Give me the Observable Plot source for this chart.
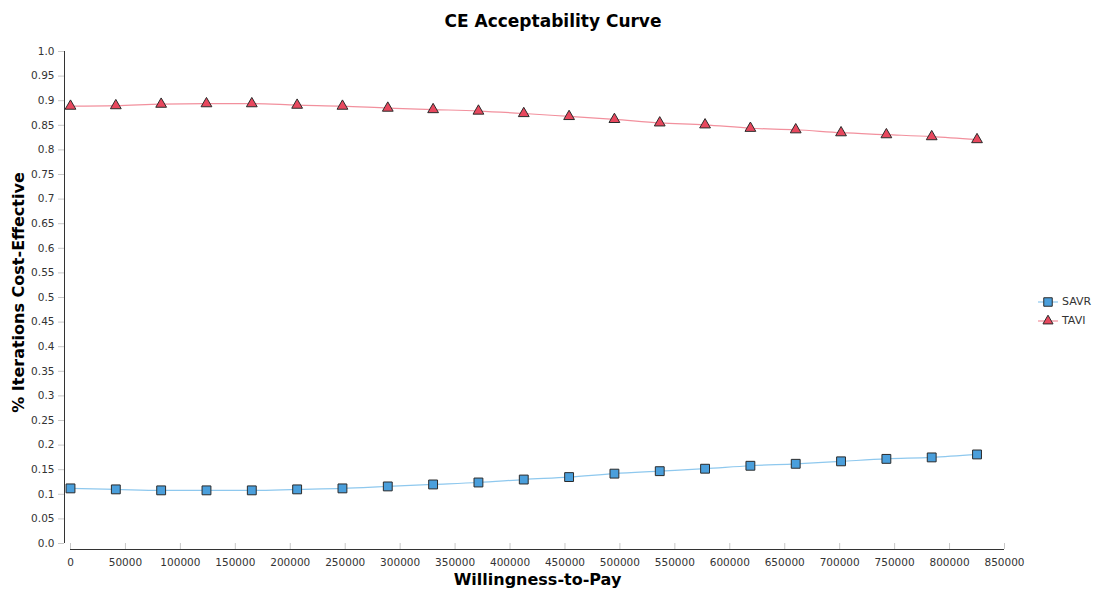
<!DOCTYPE html>
<html>
<head>
<meta charset="utf-8">
<script src="https://cdn.jsdelivr.net/npm/d3@7"></script>
<script src="https://cdn.jsdelivr.net/npm/@observablehq/plot@0.6"></script>
<style>
  body { margin: 0; background: #fff; font-family: "DejaVu Sans", Verdana, sans-serif; }
  #wrap { position: relative; width: 1093px; height: 589px; }
  #title { box-sizing: border-box; height: 38px; padding-top: 9px; padding-left: 13px; line-height: 24px;
           text-align: center; font-size: 17px; font-weight: bold; color: #000; }
  #legend { position: absolute; left: 1038px; top: 292px; font-size: 11px; color: #333; }
  .item { display: flex; align-items: center; height: 19px; }
  .item svg { margin-right: 4px; }
</style>
</head>
<body>
<div id="wrap">
  <div id="title">CE Acceptability Curve</div>
  <div id="chart"></div>
  <div id="legend"></div>
</div>
<script>
// willingness-to-pay steps and share of iterations cost-effective
const wtp = [0, 41250, 82500, 123750, 165000, 206250, 247500, 288750, 330000, 371250, 412500,
  453750, 495000, 536250, 577500, 618750, 660000, 701250, 742500, 783750, 825000]
const savr = [0.112, 0.110, 0.108, 0.108, 0.108, 0.110, 0.112, 0.116, 0.120, 0.124, 0.130,
  0.135, 0.142, 0.147, 0.152, 0.158, 0.162, 0.167, 0.172, 0.175, 0.181]
const tavi = [0.889, 0.890, 0.893, 0.894, 0.894, 0.891, 0.889, 0.885, 0.882, 0.879, 0.874,
  0.868, 0.862, 0.855, 0.851, 0.844, 0.841, 0.835, 0.831, 0.827, 0.821]
const seriesNames = ["SAVR", "TAVI"]
const yTicks = [0, 0.05, 0.1, 0.15, 0.2, 0.25, 0.3, 0.35, 0.4, 0.45, 0.5,
  0.55, 0.6, 0.65, 0.7, 0.75, 0.8, 0.85, 0.9, 0.95, 1.0]
const xTicks = [0, 50000, 100000, 150000, 200000, 250000, 300000, 350000, 400000,
  450000, 500000, 550000, 600000, 650000, 700000, 750000, 800000, 850000]
const xLabel = ["Willingness-to-Pay"]
const yLabel = ["% Iterations Cost-Effective"]

// estilos de cada serie
const lineColors = ["#8ec8ee", "#f2909d"]
const fillColors = ["#4a9fdc", "#e8485e"]
const symbols = ["square", "triangle"]
const radii = [5, 4]

const data = wtp.flatMap((w, i) => [
  {wtp: w, series: "SAVR", value: savr[i]},
  {wtp: w, series: "TAVI", value: tavi[i]}
])

const seriesMarks = seriesNames.flatMap((s, k) => {
  const rows = data.filter(d => d.series === s)
  return [
    Plot.line(rows, {x: "wtp", y: "value", stroke: lineColors[k], strokeWidth: 1.2, curve: "monotone-x"}),
    Plot.dot(rows, {x: "wtp", y: "value", symbol: symbols[k], r: radii[k],
      fill: fillColors[k], stroke: "#2b2b2b", strokeWidth: 1})
  ]
})

const yFormat = d => (d === 0 ? "0.0" : d === 1 ? "1.0" : String(d))

let chart = Plot.plot({
  width: 1093,
  height: 551,
  marginTop: 13,
  marginBottom: 46,
  marginLeft: 70,
  marginRight: 89,
  x: {domain: [0, 850000]},
  y: {domain: [0, 1]},
  style: {fontFamily: '"DejaVu Sans", Verdana, sans-serif', fontSize: "10.5px", color: "#333", background: "#fff"},
  marks: [
    Plot.axisY({ticks: yTicks, tickFormat: yFormat, dx: -6, tickSize: 6, tickPadding: 4,
      stroke: "#c8c8c8", fill: "#333", label: null}),
    Plot.axisX({ticks: xTicks, tickFormat: d3.format("d"), tickSize: 6, tickPadding: 9,
      stroke: "#c8c8c8", fill: "#333", label: null}),
    Plot.ruleX([0], {dx: -6, stroke: "#333"}),
    Plot.ruleY([0], {dy: 6, stroke: "#333"}),
    ...seriesMarks,
    Plot.text(yLabel, {text: d => d, frameAnchor: "left", textAnchor: "middle", lineAnchor: "middle",
      rotate: -90, dx: -52, dy: -5, fontWeight: "bold", fontSize: 16, fill: "#000"}),
    Plot.text(xLabel, {text: d => d, frameAnchor: "bottom", lineAnchor: "bottom", dy: 41,
      fontWeight: "bold", fontSize: 16, fill: "#000"})
  ]
})

d3.select('#chart').append(() => chart)

// leyenda a la derecha
const legend = d3.select('#legend')
seriesNames.forEach((s, k) => {
  const item = legend.append('div').attr('class', 'item')
  const svg = item.append('svg').attr('width', 20).attr('height', 12)
  svg.append('line').attr('x1', 0).attr('x2', 20).attr('y1', 6).attr('y2', 6)
    .attr('stroke', lineColors[k]).attr('stroke-width', 1.2)
  svg.append('path')
    .attr('d', d3.symbol(k === 0 ? d3.symbolSquare : d3.symbolTriangle, k === 0 ? 72 : 44)())
    .attr('transform', 'translate(10,6)')
    .attr('fill', fillColors[k]).attr('stroke', '#2b2b2b')
  item.append('span').text(s)
})
</script>
</body>
</html>
